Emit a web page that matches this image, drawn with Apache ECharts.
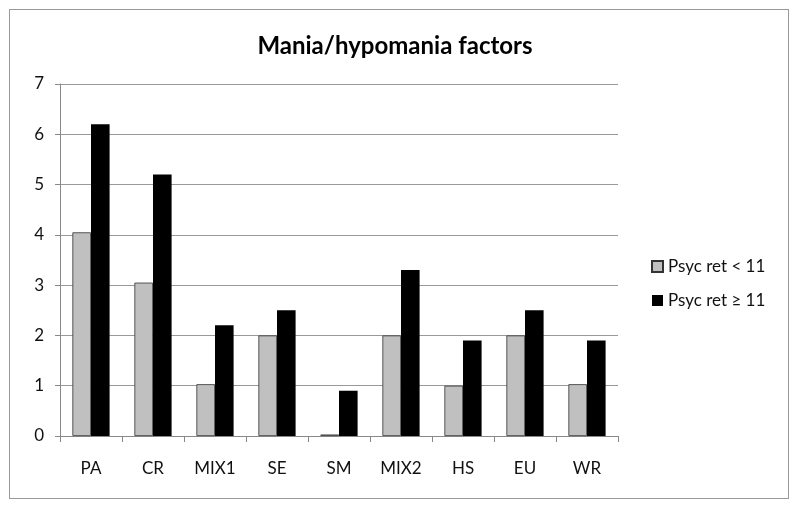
<!DOCTYPE html>
<html>
<head>
<meta charset="utf-8">
<script src="https://cdn.jsdelivr.net/npm/echarts@6/dist/echarts.min.js"></script>
<style>
    html, body {margin: 0; padding: 0; background: #fff;}
    #frame {position: absolute; left: 9px; top: 9px; width: 780px; height: 490px; border: 1px solid #999; box-sizing: border-box;}
    #ET1 {position: absolute; left: 0; top: 0; width: 800px; height: 510px;}
</style>
</head>
<body>
<div id="frame"></div>
<div id="ET1"></div>
<script>
var categories = ['PA', 'CR', 'MIX1', 'SE', 'SM', 'MIX2', 'HS', 'EU', 'WR'];
var lowValues = [4.05, 3.05, 1.03, 2.0, 0.03, 2.0, 1.0, 2.0, 1.03];
var highValues = [6.2, 5.2, 2.2, 2.5, 0.9, 3.3, 1.9, 2.5, 1.9];
var seriesNames = ['Psyc ret < 11', 'Psyc ret \u2265 11'];

~function () {
    var myChart = echarts.init(document.getElementById('ET1'));
    var font = 'Lato, "DejaVu Sans", sans-serif';
    var option = {
        animation: false,
        title: {
            text: 'Mania/hypomania factors',
            left: 390,
            top: 29,
            textAlign: 'center',
            textStyle: {
                fontSize: 24,
                fontWeight: 'bold',
                color: '#000',
                fontFamily: font
            }
        },
        legend: {
            data: seriesNames,
            orient: 'vertical',
            left: 646,
            top: 253,
            itemWidth: 11,
            itemHeight: 11,
            itemGap: 17,
            icon: 'rect',
            textStyle: {
                fontSize: 17,
                color: '#111',
                fontFamily: font
            }
        },
        grid: {
            left: 60,
            right: 182,
            top: 84,
            bottom: 74
        },
        xAxis: [
            {
                type: 'category',
                data: categories,
                axisLine: {lineStyle: {color: '#888'}},
                axisTick: {show: true, length: 6, lineStyle: {color: '#888'}},
                axisLabel: {
                    interval: 0,
                    margin: 24,
                    fontSize: 17,
                    color: '#111',
                    fontFamily: font
                }
            }
        ],
        yAxis: [
            {
                type: 'value',
                min: 0,
                max: 7,
                interval: 1,
                axisLine: {show: true, lineStyle: {color: '#888'}},
                axisTick: {show: true, length: 5, lineStyle: {color: '#888'}},
                splitLine: {lineStyle: {color: '#999'}},
                axisLabel: {
                    margin: 16,
                    fontSize: 17,
                    color: '#111',
                    fontFamily: font
                }
            }
        ],
        series: [
            {
                name: seriesNames[0],
                type: 'bar',
                data: lowValues,
                barGap: '0%',
                barCategoryGap: '40%',
                itemStyle: {color: '#c0c0c0', borderColor: '#333', borderWidth: 0.8}
            },
            {
                name: seriesNames[1],
                type: 'bar',
                data: highValues,
                itemStyle: {color: '#000'}
            }
        ]
    };
    myChart.setOption(option);
}();
</script>
</body>
</html>
